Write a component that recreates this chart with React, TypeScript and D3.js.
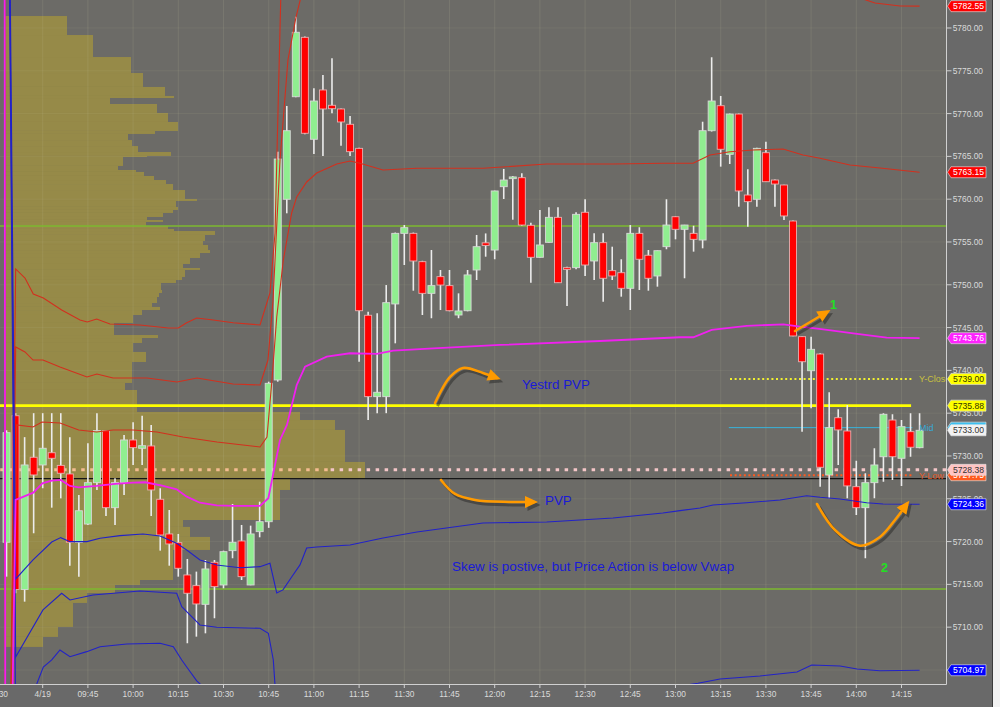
import React from "react";
import * as d3 from "d3";

// ---------------- DATA ----------------
// 3-minute bars, index 0 = first bar on the chart
const barOpen = [5719.92,5734.7,5714.4,5729.85,5728.95,5730.38,5728.9,5727.9,5719.92,5722.05,5726.88,5732.96,5723.96,5726.88,5731.87,5730.9,5731.17,5724.94,5720.89,5719.87,5716.1,5714.85,5712.67,5717.58,5714.93,5718.94,5720.07,5714.93,5721.16,5722.32,5738.88,5759.99,5771.97,5778.91,5767.0,5772.76,5770.97,5770.54,5768.75,5765.94,5746.44,5736.93,5736.93,5747.76,5756.01,5756.01,5752.7,5749.0,5750.95,5749.9,5746.47,5746.97,5751.73,5754.9,5754.06,5761.46,5762.4,5762.51,5756.95,5753.21,5754.96,5757.88,5752.0,5752.0,5758.47,5752.78,5754.92,5751.65,5751.41,5749.59,5756.01,5753.45,5751.03,5754.45,5757.95,5756.48,5756.01,5755.23,5768.0,5770.92,5765.24,5769.95,5760.49,5759.99,5765.43,5762.24,5761.66,5757.45,5743.94,5739.96,5741.91,5727.78,5734.47,5732.92,5726.41,5723.96,5726.88,5729.91,5734.2,5729.73,5732.84,5730.97];
const barHigh = [5733.0,5735.0,5732.2,5735.0,5735.0,5735.0,5735.0,5732.2,5725.44,5731.48,5735.0,5733.0,5727.4,5732.45,5733.93,5734.7,5733.62,5726.23,5723.69,5720.89,5717.97,5716.49,5717.85,5717.85,5718.94,5724.39,5721.94,5721.86,5724.66,5738.68,5765.55,5770.89,5781.32,5779.0,5772.95,5774.51,5776.46,5770.6,5769.72,5766.0,5746.86,5746.67,5749.97,5756.1,5756.98,5756.1,5752.8,5754.06,5751.73,5751.73,5749.0,5751.73,5755.82,5756.0,5761.0,5763.53,5762.7,5763.02,5757.25,5758.74,5759.05,5759.05,5752.1,5758.47,5759.99,5756.01,5756.01,5754.45,5752.98,5756.98,5756.72,5754.06,5754.0,5759.99,5758.0,5757.0,5756.9,5769.05,5776.58,5772.06,5770.0,5770.0,5763.49,5766.0,5766.72,5762.3,5761.7,5757.5,5744.0,5743.94,5742.0,5737.44,5735.45,5735.96,5729.45,5727.98,5730.9,5735.0,5734.87,5734.2,5735.0,5735.0];
const barLow = [5715.9,5713.96,5712.98,5720.97,5726.23,5723.96,5725.05,5717.18,5715.9,5721.94,5726.03,5723.0,5721.94,5725.44,5728.95,5728.95,5723.0,5718.94,5717.18,5715.9,5708.12,5708.89,5709.28,5711.04,5714.54,5718.05,5715.51,5714.9,5720.5,5721.6,5738.68,5758.35,5771.9,5767.6,5765.28,5765.05,5770.03,5766.25,5765.05,5741.01,5734.2,5735.0,5735.0,5743.16,5752.31,5749.31,5746.47,5746.09,5747.05,5746.9,5746.09,5746.9,5750.56,5753.28,5752.98,5760.02,5757.6,5756.9,5750.24,5753.2,5754.9,5750.2,5747.52,5751.8,5751.03,5750.56,5748.03,5750.56,5748.61,5747.05,5749.39,5749.31,5749.78,5754.15,5755.31,5750.76,5753.87,5754.26,5767.9,5763.8,5764.11,5759.12,5756.79,5759.12,5762.0,5759.12,5757.57,5744.0,5732.84,5735.57,5726.41,5725.05,5728.95,5725.05,5723.11,5718.05,5725.05,5726.99,5727.2,5726.5,5729.91,5730.9];
const barClose = [5732.72,5714.4,5728.95,5727.78,5730.9,5729.73,5727.98,5719.92,5723.6,5726.88,5732.96,5723.96,5726.88,5731.87,5730.97,5731.2,5726.03,5720.77,5719.72,5716.88,5713.96,5712.71,5716.8,5714.73,5718.82,5719.92,5715.9,5720.89,5722.32,5738.49,5764.69,5768.0,5779.5,5767.7,5771.47,5770.54,5770.57,5769.02,5765.55,5746.97,5736.93,5737.44,5747.91,5756.01,5756.67,5752.78,5749.0,5749.9,5749.97,5746.97,5746.94,5751.15,5754.45,5754.6,5760.96,5762.24,5762.6,5756.98,5753.21,5754.65,5757.88,5750.24,5751.8,5758.23,5752.31,5754.92,5750.76,5751.03,5749.59,5756.01,5752.98,5750.76,5753.98,5756.98,5756.48,5756.98,5755.31,5768.0,5771.47,5765.83,5769.95,5760.96,5759.71,5765.94,5762.04,5761.77,5758.04,5744.02,5741.01,5742.46,5728.68,5733.31,5733.04,5726.5,5723.96,5726.88,5728.95,5734.87,5729.91,5733.42,5731.02,5733.0];

// time axis
const timeLabels = ["15:30","4/19","09:45","10:00","10:15","10:30","10:45","11:00","11:15","11:30","11:45","12:00","12:15","12:30","12:45","13:00","13:15","13:30","13:45","14:00","14:15"];
const timeTickBars = [-1,4,9,14,19,24,29,34,39,44,49,54,59,64,69,74,79,84,89,94,99];
const priceTicks = [5705,5710,5715,5720,5725,5730,5735,5740,5745,5750,5755,5760,5765,5770,5775,5780];

// VWAP and std-dev bands: [bar, price]
const vwapPts = [[-0.3,5900],[-0.1,5650],[1,5724.86],[2.96,5725.71],[3.96,5726.81],[5,5727.11],[5.99,5727.2],[7.02,5726.5],[7.98,5726.34],[9.97,5726.5],[12,5726.73],[14,5726.88],[15.32,5726.93],[16.98,5726.58],[18.82,5726.11],[19.93,5725.25],[21.4,5724.54],[23.25,5724.24],[25.08,5724.16],[28.04,5724.16],[28.96,5725.06],[29.51,5727.98],[30.25,5731.87],[31.02,5733.62],[32.1,5738.29],[33.02,5740.43],[35.42,5741.6],[37.99,5742.0],[40.95,5741.92],[42.78,5742.3],[47.21,5742.58],[50.9,5742.77],[54.59,5742.97],[65.65,5743.43],[74.5,5743.87],[75.97,5743.87],[78,5744.72],[81.88,5745.19],[85.93,5745.38],[87.77,5745.1],[90.35,5744.8],[93.67,5744.33],[97.36,5743.82],[101,5743.76]];
const upper1Pts = [[-0.3,5900],[-0.1,5650],[1.12,5733.62],[2.93,5733.39],[3.92,5733.97],[5.91,5733.85],[7.98,5733.04],[9.97,5732.8],[11.78,5733.04],[13.99,5733.04],[16.64,5732.8],[19.52,5732.22],[23.28,5731.64],[28.04,5731.05],[28.81,5732.22],[29.36,5738.88],[29.89,5746.24],[30.62,5752.9],[31.54,5758.39],[32.1,5760.26],[33.2,5762.01],[34.31,5763.06],[36.52,5764.11],[38,5764.46],[39.1,5764.19],[41.64,5763.41],[45.4,5763.61],[52.7,5763.61],[59.75,5764.11],[67.09,5764.11],[72.6,5764.19],[75.94,5764.19],[77.82,5765.16],[80.03,5765.55],[82.57,5765.75],[85.9,5765.86],[88.1,5765.16],[89.99,5764.78],[93.3,5763.99],[96.62,5763.64],[101,5763.15]];
const upper2Pts = [[-0.3,5900],[-0.1,5650],[1.01,5742.73],[2.04,5742.15],[2.93,5741.21],[4.03,5741.21],[5.91,5740.4],[8.9,5739.23],[10,5739.58],[11.78,5739.11],[15.54,5739.11],[18.86,5738.64],[21.07,5739.11],[25.05,5738.41],[28.04,5738.29],[28.92,5741.21],[29.48,5748.22],[30.25,5764.58],[31.13,5776.26],[32.02,5781.28],[32.9,5785.02],[43.5,5785.6],[54.6,5785.37],[65.65,5784.9],[74.5,5784.44],[78.9,5785.84],[83.35,5786.07],[87.77,5785.6],[91.1,5784.44],[94.08,5783.62],[96.07,5782.92],[98.84,5782.57],[101,5782.55]];
const upper3Pts = [[-0.3,5900],[-0.1,5650],[1.01,5751.85],[2.04,5750.79],[2.96,5748.92],[4.07,5748.46],[6.1,5747.06],[8.13,5745.89],[8.93,5745.65],[9.97,5746.0],[11.44,5745.42],[14.76,5745.3],[17.89,5744.95],[19,5744.95],[19.93,5745.57],[21.04,5746.12],[22.87,5745.89],[25.08,5745.57],[28.04,5745.3],[29.14,5749.04],[29.7,5756.05],[30.06,5771.59],[30.33,5783.27],[31.35,5800.8],[32.5,5806.6],[101,5803.1]];
const lower1Pts = [[-0.6,5900],[1.01,5715.63],[2.93,5717.85],[5,5719.95],[5.99,5720.46],[7.02,5719.99],[8.9,5719.99],[10.34,5720.39],[12.55,5720.69],[15.1,5720.89],[16.98,5720.65],[18.82,5719.8],[19.93,5719.02],[21.4,5717.85],[23.25,5717.27],[25.83,5716.95],[28.04,5717.07],[29.14,5717.46],[29.89,5714.0],[30.58,5714.35],[31.54,5715.86],[32.46,5717.27],[33.2,5719.25],[34.31,5719.37],[38,5719.6],[41.64,5720.42],[45.4,5721.12],[52.7,5722.17],[59.75,5722.29],[67.09,5722.76],[72.6,5723.34],[74.5,5723.61],[76.71,5723.93],[78.15,5724.28],[81.88,5724.54],[85.56,5724.86],[88.51,5725.36],[90,5725.17],[92.2,5724.98],[95.15,5724.54],[96.96,5724.39],[101,5724.36]];
const lower2Pts = [[-0.6,5900],[1.01,5706.52],[4.03,5712.01],[6.1,5713.96],[7.02,5713.18],[9.56,5713.76],[14.76,5714.23],[18.82,5713.96],[19.38,5712.4],[21.4,5710.26],[23.25,5709.99],[28.04,5709.87],[28.96,5709.29],[29.51,5706.17],[29.81,5701.5],[30.47,5692.15],[32.46,5694.49],[38,5701.5],[49.06,5702.08],[65.65,5702.66],[74.5,5703.13],[76.49,5703.45],[78.92,5703.95],[83.35,5704.3],[87.44,5704.77],[89.07,5705.58],[92.2,5705.47],[94.08,5705.12],[96.6,5704.9],[101,5704.97]];
const lower3Pts = [[-0.6,5900],[1.01,5699.16],[3.34,5703.36],[4.07,5705.35],[5,5706.17],[5.91,5707.34],[7.02,5706.55],[8.87,5707.14],[10.34,5707.72],[13.29,5708.04],[16.98,5708.12],[18.45,5707.72],[19.38,5706.17],[19.93,5705.35],[21.04,5703.72],[22.14,5702.66],[28.04,5701.5],[29.7,5689.81],[101,5684.0]];

// Session volume profile: top price of each segment and its volume
const profileTop = [5781.40,5779.18,5776.61,5774.74,5773.11,5772.06,5771.82,5771.12,5770.07,5769.02,5767.97,5767.62,5766.91,5766.21,5765.51,5765.05,5764.93,5763.88,5763.41,5763.18,5762.71,5762.24,5761.77,5761.07,5760.02,5759.79,5759.09,5758.74,5758.39,5757.92,5757.57,5757.34,5756.87,5756.52,5756.28,5755.82,5755.12,5754.65,5754.06,5753.71,5753.13,5752.43,5751.96,5751.73,5750.91,5750.56,5750.21,5749.39,5749.04,5748.57,5747.87,5747.41,5747.05,5746.47,5745.54,5744.13,5743.78,5743.20,5742.15,5740.98,5738.53,5737.71,5735.14,5734.20,5733.04,5729.30,5727.43,5726.03,5722.52,5721.71,5720.54,5719.02,5715.51,5714.93,5713.99,5712.83,5710.03,5708.86];
const profileVolume = [62,88,126,138,160,169,105,152,163,173,150,123,127,133,166,142,118,113,131,139,149,161,168,180,192,171,173,168,158,142,158,141,163,169,210,200,198,203,205,195,185,178,195,180,177,171,156,157,154,152,147,155,137,128,109,153,137,128,141,127,120,132,295,330,340,360,285,275,178,185,205,168,135,110,82,68,53,38];
const profileLow = 5707.69;

// key levels
const greenLevels = [5756.87, 5714.46];
const yesterdayPVP = 5735.88;
const blackLevel = 5727.35;
const sessionPVP = 5728.38;
const yClose = 5739.0;
const yLow = 5727.75;
const midLevel = 5733.31;

// annotations (bar, price)
const arrowYestrd = [[47.4,5736.19],[49.06,5739.23],[50.49,5740.28],[52.7,5739.7],[54.25,5739.11]];
const arrowPVP = [[48.06,5727.2],[49.61,5725.56],[51.82,5724.86],[55.69,5724.63],[58.35,5724.63]];
const arrowOne = [[87.22,5744.6],[90.76,5746.82]];
const arrowTwo = [[89.65,5724.39],[91.64,5721.35],[94.41,5719.52],[96.62,5720.54],[98.28,5722.52],[99.6,5724.39]];

const notes = [
  { text: "Yestrd PVP", bar: 57.02, price: 5737.83, color: "#1a1ad6", size: 13.4 },
  { text: "PVP", bar: 59.56, price: 5724.27, color: "#1a1ad6", size: 13.4 },
  { text: "Skew is postive, but Price Action is below Vwap", bar: 49.28, price: 5716.56, color: "#1a1ad6", size: 13.4 },
  { text: "1", bar: 91.1, price: 5747.17, color: "#22e022", size: 12.5 },
  { text: "2", bar: 96.73, price: 5716.45, color: "#22e022", size: 12.5 },
];

const PLOT_R = 946.5;
const PLOT_B = 684;

export default function App() {
  const x = d3.scaleLinear().domain([0, 101]).range([6.54, 919.58]);
  const y = d3.scaleLinear().domain([5703.36, 5783.27]).range([PLOT_B, 0]);
  const xVol = d3.scaleLinear().domain([0, 400]).range([5, 405]);
  const line = d3.line<number[]>().x((d) => x(d[0])).y((d) => y(d[1]));
  const curve = d3
    .line<number[]>()
    .x((d) => x(d[0]))
    .y((d) => y(d[1]))
    .curve(d3.curveCatmullRom.alpha(0.5));

  const lastClose = barClose[barClose.length - 1];

  const tags = [
    { v: 5782.55, fill: "#ff0000", tc: "#ffffff" },
    { v: upper1Pts[upper1Pts.length - 1][1], fill: "#ff0000", tc: "#ffffff" },
    { v: vwapPts[vwapPts.length - 1][1], fill: "#ff22ff", tc: "#ffffff" },
    { v: yClose, fill: "#ffff00", tc: "#333300" },
    { v: yesterdayPVP, fill: "#ffff00", tc: "#333300" },
    { v: midLevel, fill: "#3cc0f0", tc: "#ffffff" },
    { v: lastClose, fill: "#f2f2f2", tc: "#333333" },
    { v: yLow, fill: "#ff5a1e", tc: "#ffffff" },
    { v: sessionPVP, fill: "#ffc4c4", tc: "#333333" },
    { v: lower1Pts[lower1Pts.length - 1][1], fill: "#0000ff", tc: "#ffffff" },
    { v: 5704.97, fill: "#0000ff", tc: "#ffffff" },
  ];

  const arrowHead = (pts: number[][], L = 13, Wd = 12) => {
    const a = pts[pts.length - 2];
    const b = pts[pts.length - 1];
    const ax = x(a[0]), ay = y(a[1]), bx = x(b[0]), by = y(b[1]);
    const dx = bx - ax, dy = by - ay;
    const len = Math.hypot(dx, dy) || 1;
    const ux = dx / len, uy = dy / len;
    const px = -uy, py = ux;
    const tipX = bx + ux * 4, tipY = by + uy * 4;
    const baseX = tipX - ux * L, baseY = tipY - uy * L;
    return `${tipX},${tipY} ${baseX + (px * Wd) / 2},${baseY + (py * Wd) / 2} ${baseX - (px * Wd) / 2},${baseY - (py * Wd) / 2}`;
  };

  const renderArrow = (pts: number[][], key: string, smooth: boolean) => {
    const d = (smooth ? curve : line)(pts) || "";
    return (
      <g key={key}>
        <g transform="translate(2.5,3)" opacity={0.45}>
          <path d={d} fill="none" stroke="#202020" strokeWidth={3} />
          <polygon points={arrowHead(pts)} fill="#202020" />
        </g>
        <path d={d} fill="none" stroke="#ff9a00" strokeWidth={2.6} strokeLinecap="round" />
        <polygon points={arrowHead(pts)} fill="#ff9a00" />
      </g>
    );
  };

  const bandStyle = [
    { pts: upper3Pts, c: "#d2301e", w: 1.1 },
    { pts: upper2Pts, c: "#d2301e", w: 1.1 },
    { pts: upper1Pts, c: "#d2301e", w: 1.1 },
    { pts: lower1Pts, c: "#2222c8", w: 1.1 },
    { pts: lower2Pts, c: "#2222c8", w: 1.1 },
    { pts: lower3Pts, c: "#2222c8", w: 1.1 },
  ];

  const bw = 7;

  return (
    <svg
      width={1000}
      height={707}
      style={{ position: "absolute", left: 0, top: 0, display: "block" }}
      fontFamily="'Liberation Sans', Arial, sans-serif"
    >
      <defs>
        <clipPath id="plot">
          <rect x={0} y={0} width={PLOT_R} height={PLOT_B} />
        </clipPath>
      </defs>
      <rect x={0} y={0} width={1000} height={707} fill="#696969" />
      <rect x={0} y={0} width={PLOT_R} height={PLOT_B} fill="#6c6b67" />
      <rect x={993} y={0} width={7} height={707} fill="#f2f2f2" />
      <line x1={992.5} x2={992.5} y1={0} y2={707} stroke="#3c3c3c" strokeWidth={1} />

      <g clipPath="url(#plot)">
        {/* volume profile */}
        {profileTop.map((p, k) => {
          const next = k + 1 < profileTop.length ? profileTop[k + 1] : profileLow;
          return (
            <rect
              key={"pf" + k}
              x={xVol(0)}
              y={y(p)}
              width={xVol(profileVolume[k]) - xVol(0)}
              height={y(next) - y(p)}
              fill="#968a48"
            />
          );
        })}
        {/* grid */}
        {timeTickBars.map((b, k) => (
          <line key={"gx" + k} x1={x(b)} x2={x(b)} y1={0} y2={PLOT_B} stroke="#c8c8a0" strokeOpacity={0.14} />
        ))}
        {priceTicks.map((p, k) => (
          <line key={"gy" + k} x1={0} x2={PLOT_R} y1={y(p)} y2={y(p)} stroke="#c8c8a0" strokeOpacity={0.1} />
        ))}

        {/* key levels */}
        {greenLevels.map((p, k) => (
          <line key={"gl" + k} x1={0} x2={PLOT_R} y1={y(p)} y2={y(p)} stroke="#7cb82f" strokeWidth={1.6} />
        ))}
        <line x1={0} x2={PLOT_R} y1={y(blackLevel)} y2={y(blackLevel)} stroke="#161616" strokeWidth={1.1} />
        <line x1={x(-0.7)} x2={x(35.85)} y1={y(sessionPVP)} y2={y(sessionPVP)} stroke="#f4bc90" strokeWidth={3} strokeDasharray="3.5,5.5" />
        <line x1={x(35.85)} x2={PLOT_R} y1={y(sessionPVP)} y2={y(sessionPVP)} stroke="#f4c6c8" strokeWidth={3} strokeDasharray="3.5,5.5" />
        <line x1={0} x2={x(100.06)} y1={y(yesterdayPVP)} y2={y(yesterdayPVP)} stroke="#ffff00" strokeWidth={2.8} />
        <line x1={x(80.03)} x2={x(100.1)} y1={y(yClose)} y2={y(yClose)} stroke="#f0f030" strokeWidth={2} strokeDasharray="2,2.6" />
        <line x1={x(80.03)} x2={x(100.1)} y1={y(yLow)} y2={y(yLow)} stroke="#ff5a1e" strokeWidth={2} strokeDasharray="2,2.6" />
        <line x1={x(79.9)} x2={x(100.2)} y1={y(midLevel)} y2={y(midLevel)} stroke="#38b4dc" strokeWidth={1} />

        {/* candles */}
        {barOpen.map((o, i) => {
          const c = barClose[i];
          const up = c >= o;
          const top = y(Math.max(o, c));
          const bot = y(Math.min(o, c));
          const cx = x(i);
          return (
            <g key={"c" + i}>
              <line x1={cx} x2={cx} y1={y(barHigh[i])} y2={y(barLow[i])} stroke="#ececec" strokeWidth={1.6} />
              <rect
                x={cx - bw / 2}
                y={top}
                width={bw}
                height={Math.max(bot - top, 1.5)}
                fill={up ? "#90ee90" : "#ff0000"}
                stroke={up ? "#d8d8d8" : "#e6b0b0"}
                strokeWidth={0.9}
              />
            </g>
          );
        })}

        {/* bands and vwap */}
        {bandStyle.map((b, k) => (
          <path key={"band" + k} d={line(b.pts) || ""} fill="none" stroke={b.c} strokeWidth={b.w} />
        ))}
        <path d={line(vwapPts) || ""} fill="none" stroke="#f020f0" strokeWidth={1.8} />

        {/* annotations */}
        {renderArrow(arrowYestrd, "a1", true)}
        {renderArrow(arrowPVP, "a2", true)}
        {renderArrow(arrowOne, "a3", false)}
        {renderArrow(arrowTwo, "a4", true)}
        {notes.map((n, k) => (
          <text key={"n" + k} x={x(n.bar)} y={y(n.price)} fill={n.color} fontSize={n.size} fontWeight={n.text.length === 1 ? "bold" : "normal"}>
            {n.text}
          </text>
        ))}
        <text x={919} y={y(yClose) + 3.2} fill="#c8c040" fontSize={9}>Y-Close</text>
        <text x={919} y={y(midLevel) + 3.2} fill="#38a8d8" fontSize={9}>Mid</text>
        <text x={919} y={y(yLow) + 3.5} fill="#e05a28" fontSize={9}>Y-Low</text>
      </g>

      {/* axes */}
      <line x1={0} x2={PLOT_R} y1={PLOT_B + 0.5} y2={PLOT_B + 0.5} stroke="#d0d0d0" strokeWidth={1} />
      <line x1={PLOT_R} x2={PLOT_R} y1={0} y2={PLOT_B + 0.5} stroke="#d0d0d0" strokeWidth={1} />
      {timeTickBars.map((b, k) => (
        <g key={"tx" + k}>
          <line x1={x(b)} x2={x(b)} y1={PLOT_B} y2={PLOT_B + 4} stroke="#d0d0d0" />
          <text x={x(b)} y={697} textAnchor="middle" fill="#dadada" fontSize={8.4}>
            {timeLabels[k]}
          </text>
        </g>
      ))}
      {priceTicks.map((p, k) => (
        <g key={"ty" + k}>
          <line x1={PLOT_R} x2={PLOT_R + 5} y1={y(p)} y2={y(p)} stroke="#d0d0d0" />
          <text x={952.7} y={y(p) + 3} fill="#dadada" fontSize={8.4}>
            {d3.format(".2f")(p)}
          </text>
        </g>
      ))}
      {tags.map((t, k) => {
        const ty = y(t.v);
        return (
          <g key={"tag" + k}>
            <polygon
              points={`${PLOT_R + 1},${ty} ${951},${ty - 5.5} ${986},${ty - 5.5} ${986},${ty + 5.5} ${951},${ty + 5.5}`}
              fill={t.fill}
              stroke="#e8e8e8"
              strokeWidth={0.6}
            />
            <text x={953} y={ty + 3.2} fill={t.tc} fontSize={8.6}>
              {d3.format(".2f")(t.v)}
            </text>
          </g>
        );
      })}
    </svg>
  );
}
